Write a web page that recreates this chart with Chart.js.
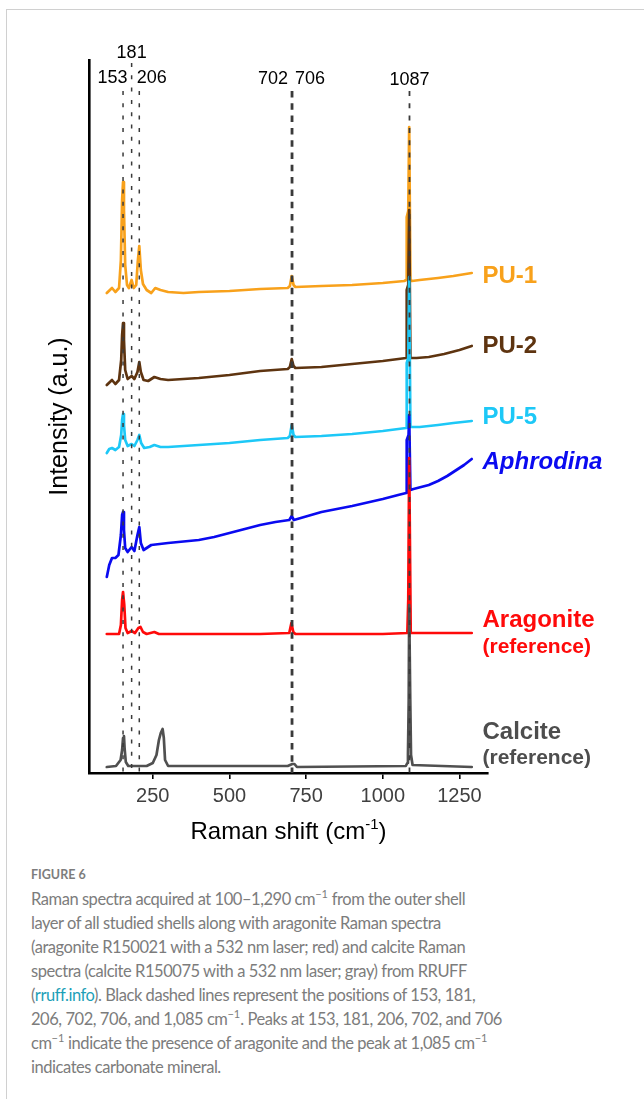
<!DOCTYPE html>
<html>
<head>
<meta charset="utf-8">
<script src="https://cdn.jsdelivr.net/npm/chart.js@4.4.1/dist/chart.umd.min.js"></script>
<style>
html,body{margin:0;padding:0;background:#fff;width:644px;height:1099px;overflow:hidden;}
#card{position:absolute;left:6px;top:9px;width:700px;height:1200px;border:1px solid #d0d0d0;box-sizing:border-box;}
#wrap{position:absolute;left:0;top:0;width:644px;height:860px;}
#fig{position:absolute;left:31px;top:866px;height:18px;line-height:18px;font-family:Lato,"Open Sans",sans-serif;font-size:12.5px;font-weight:700;color:#7d7d7d;}
#cap{position:absolute;left:31px;top:887px;line-height:24px;font-family:Lato,"Open Sans",sans-serif;font-size:16.5px;letter-spacing:-0.45px;color:#7c7c7c;white-space:nowrap;}
#cap sup{font-size:11px;line-height:0;position:relative;top:-1px;letter-spacing:0;}
#cap a{color:#1d9fb8;text-decoration:none;}
</style>
</head>
<body>
<div id="card"></div>
<div id="wrap"><canvas id="c" width="644" height="860"></canvas></div>
<div id="fig">FIGURE 6</div>
<div id="cap">Raman spectra acquired at 100–1,290 cm<sup>−1</sup> from the outer shell<br>layer of all studied shells along with aragonite Raman spectra<br>(aragonite R150021 with a 532 nm laser; red) and calcite Raman<br>spectra (calcite R150075 with a 532 nm laser; gray) from RRUFF<br>(<a>rruff.info</a>). Black dashed lines represent the positions of 153, 181,<br>206, 702, 706, and 1,085 cm<sup>−1</sup>. Peaks at 153, 181, 206, 702, and 706<br>cm<sup>−1</sup> indicate the presence of aragonite and the peak at 1,085 cm<sup>−1</sup><br>indicates carbonate mineral.</div>
<script>
// ---------- data (Raman shift in cm-1, intensity in arbitrary offset units) ----------
const xTicks = [250, 500, 750, 1000, 1250];

const pu1X = [100,117,128,140,146,150,153,156,160,166,172,181,188,196,201,206,211,218,230,245,258,275,300,350,400,500,600,690,697,703,709,715,800,900,1000,1070,1076,1078,1083,1086,1088,1090,1095,1120,1180,1230,1290];
const pu1Y = [480,485,481,485,513,573,591,563,508,488,485,493,485,488,511,527,503,489,483,480,485,483,481,480,481,482,484,485,487,497,488,486,487,488,490,492,493,556,562,646,646,493,492,493,495,497,500];

const pu2X = [100,117,128,140,147,150,153,156,160,168,181,190,200,206,211,220,235,255,275,300,400,500,550,600,690,697,703,709,715,800,900,1000,1076,1078,1083,1086,1088,1090,1110,1150,1200,1250,1290];
const pu2Y = [388,393,389,393,413,438,450,433,403,394,397,394,401,411,401,393,392,396,394,393,395,398,400,402,404,406,414,407,405,406,409,412,415,483,488,563,563,415,415,416,419,423,427];

const pu5X = [100,108,117,128,140,147,150,153,156,160,168,181,190,200,206,212,222,240,255,275,300,400,500,600,690,697,703,709,715,800,900,1000,1076,1078,1083,1086,1088,1090,1120,1180,1230,1290];
const pu5Y = [320,324,325,323,326,338,353,359,348,333,327,329,327,333,338,330,325,326,328,326,326,328,330,333,335,337,348,338,336,337,339,342,345,410,415,496,496,346,346,348,350,352];

const aphX = [100,108,117,128,138,146,150,153,156,160,168,181,190,200,206,211,220,230,245,300,400,450,500,550,600,650,695,703,710,800,900,1000,1050,1076,1078,1084,1086,1088,1090,1100,1150,1180,1210,1240,1265,1290];
const aphY = [196,208,215,215,218,238,258,261,243,225,221,226,222,238,246,230,223,225,228,230,233,236,240,244,248,251,253,257,253,261,267,274,278,280,333,338,358,358,283,284,288,292,297,303,308,314];

const araX = [100,140,146,150,153,157,161,168,181,192,203,210,218,230,255,270,400,600,695,702,708,715,1000,1080,1083,1086,1088,1091,1290];
const araY = [139,139,148,173,181,168,145,140,142,140,145,146,141,139,141,139,139,139,140,150,141,139,139,140,173,315,315,140,140];

const calX = [100,130,145,150,153,156,158,162,170,230,250,262,270,276,282,286,290,300,690,705,712,720,1075,1080,1082,1084.5,1086,1088,1089.5,1092,1097,1290];
const calY = [6,7,13,23,35,37,25,11,7,7,10,18,33,40,44,35,13,7,7,9,9,6,7,10,18,73,168,168,73,18,8,6];

const peakLines = [153, 181, 206, 704, 1087];
const peakLabels = ['153', '181', '206', '702', '706', '1087'];
const seriesNames = ['PU-1', 'PU-2', 'PU-5', 'Aphrodina', 'Aragonite', 'Calcite'];
</script>
<script>
const toPts = (xs, ys) => xs.map((v, i) => ({x: v, y: ys[i]}));
const COL = {pu1:'#F8A11B', pu2:'#5E3410', pu5:'#1DC8F7', aph:'#0A0AF0', ara:'#FF0A0A', cal:'#505050'};
const FONT = '"Liberation Sans", Arial, Helvetica, sans-serif';

function ds(label, xs, ys, color) {
  return {label, data: toPts(xs, ys), borderColor: color, borderWidth: 2.7,
          pointRadius: 0, tension: 0, fill: false, borderJoinStyle: 'round', borderCapStyle: 'round'};
}

const overlay = {
  id: 'overlay',
  afterDatasetsDraw(chart) {
    const {ctx, scales: {x, y}} = chart;
    ctx.save();
    const styles = [
      {w: 1.5, dash: [4, 8.3], top: 682},
      {w: 1.5, dash: [4, 8.3], top: 710},
      {w: 1.5, dash: [4, 8.3], top: 682},
      {w: 2.8, dash: [6.5, 5.8], top: 682},
      {w: 1.8, dash: [5, 7.3], top: 682}
    ];
    peakLines.forEach((v, i) => {
      const s = styles[i];
      const px = x.getPixelForValue(v);
      ctx.beginPath();
      ctx.setLineDash(s.dash);
      ctx.lineWidth = s.w;
      ctx.strokeStyle = '#3a3a3a';
      ctx.moveTo(px, y.getPixelForValue(s.top));
      ctx.lineTo(px, y.getPixelForValue(0));
      ctx.stroke();
    });
    ctx.restore();
  },
  afterDraw(chart) {
    const {ctx, scales: {x, y}, chartArea} = chart;
    ctx.save();
    ctx.setLineDash([]);
    // peak labels
    ctx.fillStyle = '#000';
    ctx.font = '18px ' + FONT;
    ctx.textBaseline = 'middle';
    const p181 = x.getPixelForValue(181), p704 = x.getPixelForValue(704), p1087 = x.getPixelForValue(1087);
    ctx.textAlign = 'center';
    ctx.fillText(peakLabels[1], p181, y.getPixelForValue(720));
    ctx.textAlign = 'right';
    ctx.fillText(peakLabels[0], p181 - 4, y.getPixelForValue(695));
    ctx.fillText(peakLabels[3], p704 - 4, y.getPixelForValue(694));
    ctx.textAlign = 'left';
    ctx.fillText(peakLabels[2], p181 + 5, y.getPixelForValue(695));
    ctx.fillText(peakLabels[4], p704 + 3, y.getPixelForValue(694));
    ctx.textAlign = 'center';
    ctx.fillText(peakLabels[5], p1087, y.getPixelForValue(693));

    // series labels
    const lx = x.getPixelForValue(1325);
    ctx.textAlign = 'left';
    const lab = (t, v, col, f) => { ctx.fillStyle = col; ctx.font = f; ctx.fillText(t, lx, y.getPixelForValue(v)); };
    lab(seriesNames[0], 497, COL.pu1, 'bold 24px ' + FONT);
    lab(seriesNames[1], 427, COL.pu2, 'bold 24px ' + FONT);
    lab(seriesNames[2], 356, COL.pu5, 'bold 24px ' + FONT);
    lab(seriesNames[3], 311, COL.aph, 'italic bold 24px ' + FONT);
    lab(seriesNames[4], 153, COL.ara, 'bold 24px ' + FONT);
    lab('(reference)', 126, COL.ara, 'bold 21px ' + FONT);
    lab(seriesNames[5], 41, '#4d4d4d', 'bold 24px ' + FONT);
    lab('(reference)', 15, '#4d4d4d', 'bold 21px ' + FONT);

    // x axis title with superscript
    const cx = (chartArea.left + chartArea.right) / 2, cy = 830;
    ctx.fillStyle = '#000';
    ctx.textAlign = 'left';
    ctx.textBaseline = 'alphabetic';
    const big = '24px ' + FONT, small = '15px ' + FONT;
    ctx.font = big; const w1 = ctx.measureText('Raman shift (cm').width; const w3 = ctx.measureText(')').width;
    ctx.font = small; const w2 = ctx.measureText('-1').width;
    let sx = cx - (w1 + w2 + w3) / 2;
    const base = cy + 8.5;
    ctx.font = big; ctx.fillText('Raman shift (cm', sx, base);
    ctx.font = small; ctx.fillText('-1', sx + w1, base - 10);
    ctx.font = big; ctx.fillText(')', sx + w1 + w2, base);
    ctx.restore();
  }
};

new Chart(document.getElementById('c'), {
  type: 'line',
  data: {
    datasets: [
      ds('Calcite', calX, calY, COL.cal),
      ds('Aragonite', araX, araY, COL.ara),
      ds('Aphrodina', aphX, aphY, COL.aph),
      ds('PU-5', pu5X, pu5Y, COL.pu5),
      ds('PU-2', pu2X, pu2Y, COL.pu2),
      ds('PU-1', pu1X, pu1Y, COL.pu1)
    ]
  },
  options: {
    responsive: false,
    animation: false,
    devicePixelRatio: 1,
    layout: {padding: {top: 60, right: 156, bottom: 0, left: 0}},
    plugins: {legend: {display: false}, tooltip: {enabled: false}},
    scales: {
      x: {
        type: 'linear', min: 42, max: 1343,
        afterBuildTicks: s => { s.ticks = xTicks.map(v => ({value: v})); },
        afterFit: s => { s.height = 87; },
        ticks: {font: {size: 20, family: FONT}, color: '#404040', padding: 5, maxRotation: 0, autoSkip: false,
                callback: v => String(v)},
        grid: {drawOnChartArea: false, drawTicks: true, tickLength: 6, color: '#000', lineWidth: 1.6},
        border: {display: true, color: '#000', width: 2.6}
      },
      y: {
        min: 0, max: 713,
        afterFit: s => { s.width = 89; },
        ticks: {display: false},
        grid: {display: false},
        border: {display: true, color: '#000', width: 2.6},
        title: {display: true, text: 'Intensity (a.u.)', color: '#000',
                font: {size: 25, family: FONT}, padding: {top: 45, bottom: 0}}
      }
    }
  },
  plugins: [overlay]
});
</script>
</body>
</html>
